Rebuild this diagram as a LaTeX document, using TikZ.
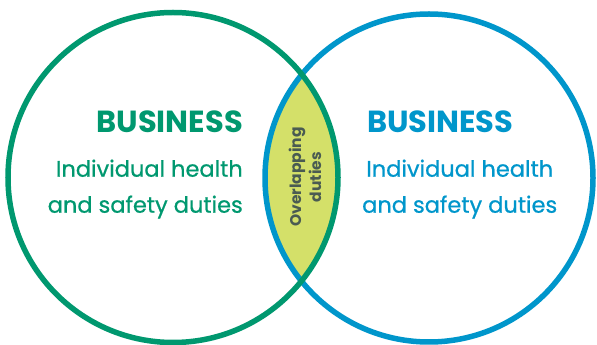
\documentclass[tikz,border=0pt]{standalone}
\usepackage{fontspec}
\setmainfont{Poppins}
\newfontfamily\dutyfont{Poppins}[FakeBold=0.7]
\usepackage{xcolor}
\usetikzlibrary{positioning}

\definecolor{bizgreen}{HTML}{00986F}
\definecolor{bizblue}{HTML}{0096CB}
\definecolor{lensfill}{HTML}{D4E069}
\definecolor{lenstext}{HTML}{4A5B52}

\begin{document}
\begin{tikzpicture}[
		x=1pt,y=1pt,
		ring/.style={line width=5.5pt},
		title text/.style={font=\bfseries\fontsize{30.5}{32}\selectfont,inner sep=0pt},
		duty text/.style={font=\dutyfont\fontsize{22.5}{36}\selectfont,inner sep=0pt},
		lens text/.style={font=\bfseries\fontsize{15.5}{20}\selectfont,align=center,
			text=lenstext,rotate=90,inner sep=0pt}
	]
		\useasboundingbox (0,0) rectangle (597,345);

		\coordinate (L) at (173,167.5);
		\coordinate (R) at (429,167);

		% Shared area of the two rings.
		\begin{scope}
			\clip (L) circle (165);
			\fill[lensfill] (R) circle (164);
		\end{scope}

		% The rings themselves, green laid over blue.
		\draw[ring,bizblue] (R) circle (164);
		\draw[ring,bizgreen] (L) circle (165);

		% Left business.
		\node[title text,text=bizgreen,anchor=base east] (ltitle) at (243,212) {BUSINESS};
		\node[duty text,text=bizgreen,align=right,below=26pt of ltitle.south east,
			anchor=north east] (lduty) {Individual health\\and safety duties};

		% Right business.
		\node[title text,text=bizblue,anchor=base west] (rtitle) at (367,212) {BUSINESS};
		\node[duty text,text=bizblue,align=center,below=26pt of rtitle.south west,
			anchor=north west,xshift=-5pt] (rduty) {Individual health\\and safety duties};

		% Label inside the overlap.
		\node[lens text] (shared) at (305,168) {Overlapping\\duties};
	\end{tikzpicture}
\end{document}
